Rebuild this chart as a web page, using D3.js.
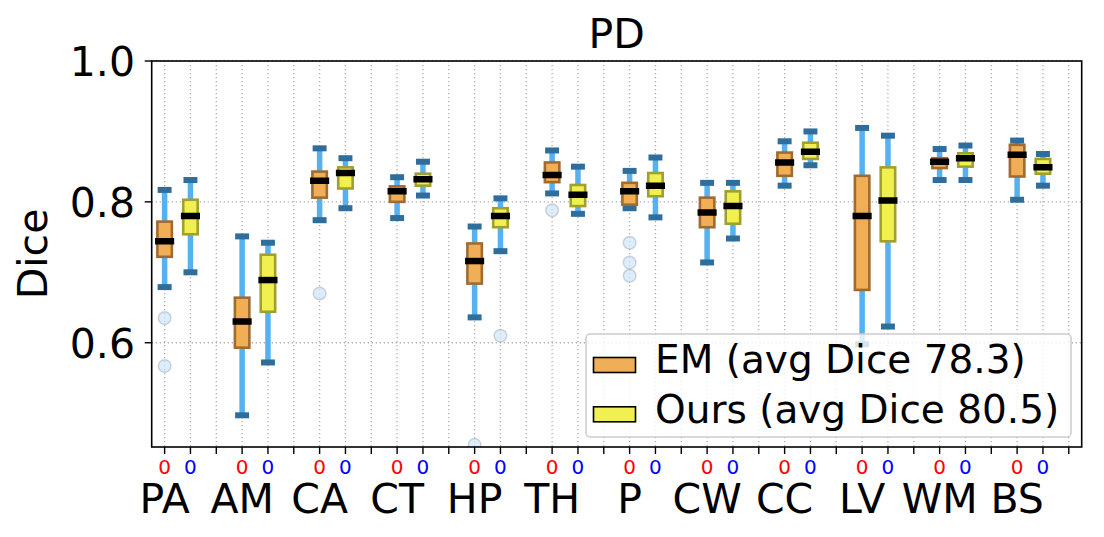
<!DOCTYPE html>
<html>
<head>
<meta charset="utf-8">
<script src="https://cdn.jsdelivr.net/npm/d3@7"></script>
<style>
  body { margin: 0; background: #fff; }
  svg text { font-family: "DejaVu Sans", sans-serif; }
</style>
</head>
<body>
<svg id="chart" width="1104" height="537"></svg>
<script>
// structures
var categories = ["PA", "AM", "CA", "CT", "HP", "TH", "P", "CW", "CC", "LV", "WM", "BS"];

// [lower whisker, q1, median, q3, upper whisker]
var emStats = [
   [0.679, 0.722, 0.744, 0.772, 0.817],
   [0.497, 0.593, 0.630, 0.664, 0.751],
   [0.774, 0.806, 0.830, 0.843, 0.876],
   [0.777, 0.800, 0.815, 0.822, 0.835],
   [0.636, 0.684, 0.716, 0.741, 0.765],
   [0.812, 0.828, 0.838, 0.856, 0.873],
   [0.791, 0.796, 0.815, 0.827, 0.844],
   [0.714, 0.764, 0.785, 0.806, 0.827],
   [0.823, 0.837, 0.856, 0.870, 0.886],
   [0.598, 0.675, 0.780, 0.837, 0.905],
   [0.831, 0.848, 0.857, 0.862, 0.875],
   [0.803, 0.836, 0.867, 0.881, 0.887]
];
var oursStats = [
   [0.700, 0.754, 0.780, 0.803, 0.831],
   [0.572, 0.644, 0.689, 0.725, 0.742],
   [0.791, 0.819, 0.841, 0.849, 0.862],
   [0.809, 0.823, 0.832, 0.840, 0.857],
   [0.730, 0.764, 0.780, 0.791, 0.805],
   [0.783, 0.794, 0.810, 0.824, 0.850],
   [0.778, 0.808, 0.823, 0.841, 0.863],
   [0.748, 0.769, 0.794, 0.815, 0.827],
   [0.852, 0.861, 0.871, 0.884, 0.900],
   [0.623, 0.744, 0.802, 0.849, 0.894],
   [0.831, 0.850, 0.862, 0.869, 0.880],
   [0.823, 0.840, 0.849, 0.861, 0.868]
];
var emFliers = [[0.635, 0.567], [], [0.670], [], [0.455], [0.788], [0.742, 0.714, 0.695], [], [], [], [], []];
var oursFliers = [[], [], [], [], [0.610], [], [], [], [], [], [], []];

var yTicks = [0.6, 0.8, 1.0];
var legendLabels = ["EM (avg Dice 78.3)", "Ours (avg Dice 80.5)"];

var margin = { left: 151.7, right: 1081.7, top: 61, bottom: 447 };

var svg = d3.select("svg#chart");

var nPos = categories.length * 3;
var x = d3.scaleLinear().domain([-0.5, nPos - 0.5]).range([margin.left, margin.right]);
var y = d3.scaleLinear().domain([0.452, 1.0]).range([margin.bottom, margin.top]);
var step = x(1) - x(0);

// clip for plot area
svg.append("clipPath").attr("id", "plotClip")
   .append("rect")
   .attr("x", margin.left).attr("y", margin.top)
   .attr("width", margin.right - margin.left)
   .attr("height", margin.bottom - margin.top);

// grid
var grid = svg.append("g").attr("stroke", "#b0b0b0").attr("stroke-width", 1.3).attr("stroke-dasharray", "1.3,2.7");
grid.selectAll("line.vg").data(d3.range(nPos)).enter().append("line")
   .attr("x1", (d) => x(d)).attr("x2", (d) => x(d))
   .attr("y1", margin.top).attr("y2", margin.bottom);
grid.selectAll("line.hg").data(yTicks).enter().append("line")
   .attr("x1", margin.left).attr("x2", margin.right)
   .attr("y1", (d) => y(d)).attr("y2", (d) => y(d));

// boxes
var plot = svg.append("g").attr("clip-path", "url(#plotClip)");
var series = [
   { stats: emStats, fliers: emFliers, off: 0, fill: "#f0ae56", edge: "#a06b30" },
   { stats: oursStats, fliers: oursFliers, off: 1, fill: "#f0f050", edge: "#a0a032" }
];

series.forEach(function (s) {
   var g = plot.append("g");
   var items = s.stats.map(function (d, i) { return { i: i, d: d, pos: i * 3 + s.off }; });

   // whiskers
   g.selectAll("line.wh").data(items).enter().append("line")
      .attr("x1", (o) => x(o.pos)).attr("x2", (o) => x(o.pos))
      .attr("y1", (o) => y(o.d[0])).attr("y2", (o) => y(o.d[4]))
      .attr("stroke", "#56b1f0").attr("stroke-width", 5.5);

   // caps
   [0, 4].forEach(function (k) {
      g.selectAll("rect.cap" + k).data(items).enter().append("rect")
         .attr("x", (o) => x(o.pos) - step * 0.27)
         .attr("y", (o) => y(o.d[k]) - 3)
         .attr("width", step * 0.54).attr("height", 6)
         .attr("fill", "#2f6d9c");
   });

   // box
   g.selectAll("rect.box").data(items).enter().append("rect")
      .attr("x", (o) => x(o.pos) - step * 0.28)
      .attr("y", (o) => y(o.d[3]))
      .attr("width", step * 0.56)
      .attr("height", (o) => y(o.d[1]) - y(o.d[3]))
      .attr("fill", s.fill).attr("stroke", s.edge).attr("stroke-width", 2.6);

   // median
   g.selectAll("line.med").data(items).enter().append("line")
      .attr("x1", (o) => x(o.pos) - step * 0.37).attr("x2", (o) => x(o.pos) + step * 0.37)
      .attr("y1", (o) => y(o.d[2])).attr("y2", (o) => y(o.d[2]))
      .attr("stroke", "#000").attr("stroke-width", 6.5);

   // fliers
   var fl = [];
   s.fliers.forEach(function (arr, i) {
      arr.forEach(function (v) { fl.push({ pos: i * 3 + s.off, v: v }); });
   });
   g.selectAll("circle.fl").data(fl).enter().append("circle")
      .attr("cx", (o) => x(o.pos)).attr("cy", (o) => y(o.v)).attr("r", 6.3)
      .attr("fill", "#cfe6fa").attr("fill-opacity", 0.7)
      .attr("stroke", "#9aa4ae").attr("stroke-opacity", 0.45).attr("stroke-width", 1.5);
});

// legend
var lg = svg.append("g");
lg.append("rect")
   .attr("x", 586).attr("y", 334).attr("width", 485).attr("height", 103)
   .attr("rx", 4).attr("fill", "#fff").attr("fill-opacity", 0.8)
   .attr("stroke", "#cccccc").attr("stroke-width", 1.5);
legendLabels.forEach(function (t, i) {
   var yy = 357.5 + i * 49.3;
   lg.append("rect").attr("x", 593.5).attr("y", yy).attr("width", 42).attr("height", 15)
      .attr("fill", series[i].fill).attr("stroke", "#000").attr("stroke-width", 1.6);
   lg.append("text").attr("x", 655).attr("y", yy + 15.8)
      .attr("font-size", 39).attr("fill", "#000").text(t);
});

// spines
svg.append("rect")
   .attr("x", margin.left).attr("y", margin.top)
   .attr("width", margin.right - margin.left).attr("height", margin.bottom - margin.top)
   .attr("fill", "none").attr("stroke", "#000").attr("stroke-width", 1.6);

// y axis
var yAxis = svg.append("g");
yTicks.forEach(function (t) {
   yAxis.append("line").attr("x1", margin.left - 7).attr("x2", margin.left)
      .attr("y1", y(t)).attr("y2", y(t)).attr("stroke", "#000").attr("stroke-width", 1.4);
   yAxis.append("text").attr("x", 135).attr("y", y(t)).attr("dy", "0.36em")
      .attr("text-anchor", "end").attr("font-size", 41).text(d3.format(".1f")(t));
});
svg.append("text")
   .attr("transform", "translate(47," + (margin.top + margin.bottom) / 2 + ") rotate(-90)")
   .attr("text-anchor", "middle").attr("font-size", 41).text("Dice");

// x axis ticks and labels
var xAxis = svg.append("g");
d3.range(nPos).forEach(function (p) {
   xAxis.append("line").attr("x1", x(p)).attr("x2", x(p))
      .attr("y1", margin.bottom).attr("y2", margin.bottom + 7)
      .attr("stroke", "#000").attr("stroke-width", 1.4);
   var k = p % 3;
   if (k < 2) {
      xAxis.append("text").attr("x", x(p)).attr("y", 473.5)
         .attr("text-anchor", "middle").attr("font-size", 20)
         .attr("fill", k === 0 ? "#ff0000" : "#0000ff").text("0");
   }
});
categories.forEach(function (c, i) {
   xAxis.append("text").attr("x", x(i * 3)).attr("y", 513)
      .attr("text-anchor", "middle").attr("font-size", 41).text(c);
});

// title
svg.append("text").attr("x", (margin.left + margin.right) / 2).attr("y", 48)
   .attr("text-anchor", "middle").attr("font-size", 41).text("PD");
</script>
</body>
</html>
